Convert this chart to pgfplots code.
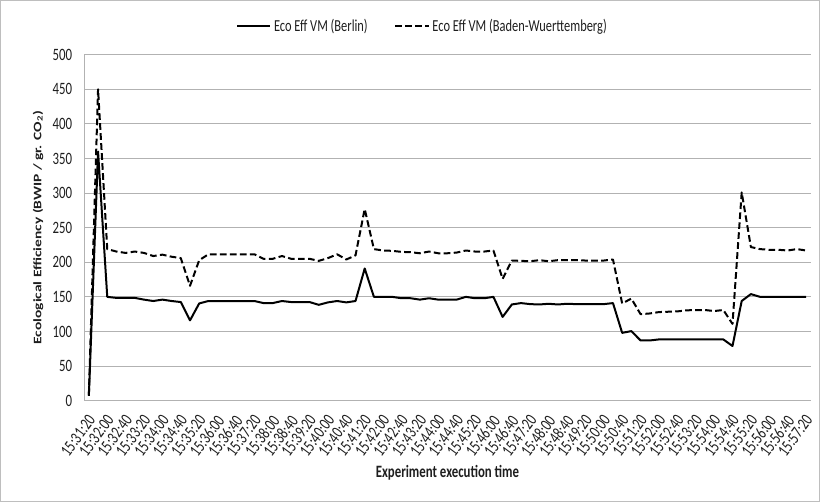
\documentclass[border=0pt]{standalone}
\usepackage{pgfplots}
\pgfplotsset{compat=1.18}
\usepackage{fontspec}
\setmainfont{Carlito}[FakeStretch=0.74]
\newfontfamily\widefont{Carlito}[FakeStretch=1.35]
\definecolor{gridgray}{RGB}{178,178,178}
\definecolor{framegray}{RGB}{190,190,190}
\definecolor{txt}{RGB}{30,30,30}
\pgfplotstableread{
i berlin baden
0 7 8
1 360 450
2 150 219
3 148.5 215.5
4 148.5 213.5
5 148.5 215.5
6 146 213.5
7 144 209
8 146 211
9 144 208
10 142.5 206
11 116 166
12 140.5 203
13 144 211.5
14 144 211.5
15 144 211.5
16 144 211.5
17 144 211.5
18 144 211.5
19 141 205
20 141 205
21 144 209
22 142.5 205
23 142.5 205
24 142.5 205
25 138.5 202
26 142 206
27 144 211.5
28 142 204
29 144 210
30 191 277
31 150 219
32 150 217
33 150 216.5
34 148 215
35 148 214.5
36 146 213
37 148 215.5
38 146 213
39 146 213
40 146 214
41 150 217
42 148 215.5
43 148 215.5
44 150 217
45 121 176
46 139 202.5
47 141 202
48 139.5 201.5
49 139 203
50 140 201.5
51 139 203
52 140 203
53 139.5 203
54 139.5 202.5
55 139.5 202.5
56 139.5 202.5
57 141 204
58 98 140.5
59 100.5 147.5
60 87 125
61 87 126
62 88.5 128
63 88.5 128.5
64 88.5 129
65 88.5 130.5
66 88.5 131
67 88.5 131
68 88.5 129.5
69 88.5 131
70 79 111
71 144 301
72 154 222
73 150 219
74 150 218
75 150 218
76 150 217
77 150 219
78 150 217
}\datatable
\begin{document}
\begin{tikzpicture}
\useasboundingbox (0pt,0pt) rectangle (615pt,376.5pt);
\draw[framegray, line width=0.75pt] (0.6pt,0.6pt) rectangle (614.4pt,375.9pt);
\begin{axis}[
  at={(63.2pt,76pt)}, anchor=south west,
  scale only axis, width=544.8pt, height=259.5pt,
  xmin=-0.5, xmax=78.5, ymin=0, ymax=500,
  axis lines*=left,
  axis line style={gridgray, line width=0.75pt},
  ymajorgrids, grid style={gridgray, line width=0.75pt},
  major tick length=0pt,
  ytick={0,50,...,500},
  xtick={0,2,...,78},
  xticklabels={15:31:20,15:32:00,15:32:40,15:33:20,15:34:00,15:34:40,15:35:20,15:36:00,15:36:40,15:37:20,15:38:00,15:38:40,15:39:20,15:40:00,15:40:40,15:41:20,15:42:00,15:42:40,15:43:20,15:44:00,15:44:40,15:45:20,15:46:00,15:46:40,15:47:20,15:48:00,15:48:40,15:49:20,15:50:00,15:50:40,15:51:20,15:52:00,15:52:40,15:53:20,15:54:00,15:54:40,15:55:20,15:56:00,15:56:40,15:57:20},
  /pgf/number format/assume math mode=true,
  tick label style={font=\fontsize{13}{15}\selectfont, text=txt},
  yticklabel style={xshift=-5.5pt},
  xticklabel style={xshift=-1.4pt, yshift=-9.6pt, rotate=53.5, anchor=north east, inner sep=0pt},
  xlabel={Experiment execution time},
  ylabel={Ecological Efficiency (BWIP / gr. CO\textsubscript{2})},
  every axis x label/.style={at={(axis description cs:0.5,-0.207)}, anchor=center,
     font=\bfseries\fontsize{13}{15}\selectfont, text=txt},
  every axis y label/.style={at={(axis description cs:-0.0637,0.5)}, rotate=90, anchor=center,
     font=\widefont\bfseries\fontsize{8.6}{10}\selectfont, text=txt},
  legend columns=2,
  legend style={at={(axis description cs:0.466,1.083)}, anchor=center, draw=none, fill=none,
    font=\fontsize{12.6}{14}\selectfont, text=txt,
    /tikz/every even column/.append style={column sep=18pt}},
  legend image code/.code={\draw[#1] (0pt,0pt) -- (25pt,0pt);},
]
\addplot[black, line width=1.5pt, line join=round, mark=none] table[x=i, y=berlin] {\datatable};
\addlegendentry{Eco Eff VM (Berlin)}
\addplot[black, line width=1.5pt, line join=round, mark=none, dash pattern=on 5pt off 2.5pt] table[x=i, y=baden] {\datatable};
\addlegendentry{Eco Eff VM (Baden-Wuerttemberg)}
\end{axis}
\end{tikzpicture}
\end{document}
